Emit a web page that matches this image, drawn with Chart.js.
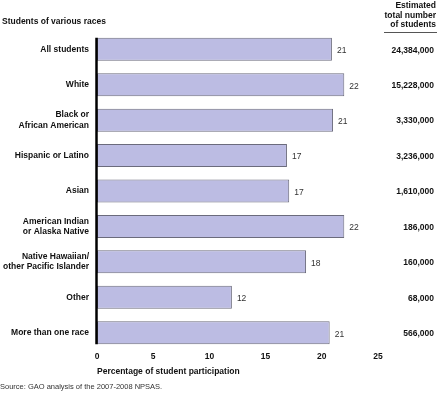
<!DOCTYPE html>
<html>
<head>
<meta charset="utf-8">
<script src="https://cdn.jsdelivr.net/npm/chart.js@4.4.1/dist/chart.umd.min.js"></script>
<style>
  html, body { margin: 0; padding: 0; background: #fff; }
  #wrap { width: 439px; height: 393px; position: relative; }
</style>
</head>
<body>
<div id="wrap"><canvas id="chart" width="439" height="393"></canvas></div>
<script>
// Data
const categories = [
    ['All students'],
    ['White'],
    ['Black or', 'African American'],
    ['Hispanic or Latino'],
    ['Asian'],
    ['American Indian', 'or Alaska Native'],
    ['Native Hawaiian/', 'other Pacific Islander'],
    ['Other'],
    ['More than one race']
];
const participation = [20.9, 22.0, 21.0, 16.9, 17.1, 22.0, 18.6, 12.0, 20.7];
const printedValues = ['21', '22', '21', '17', '17', '22', '18', '12', '21'];
const totalStudents = ['24,384,000', '15,228,000', '3,330,000', '3,236,000', '1,610,000',
    '186,000', '160,000', '68,000', '566,000'];
const xTicks = [0, 5, 10, 15, 20, 25];

const FONT = 'Liberation Sans, Arial, Helvetica, sans-serif';

// Draws headers, value labels, totals column, axis line and source note
const extras = {
    id: 'extras',
    afterDatasetsDraw(chart) {
        const ctx = chart.ctx;
        const bars = chart.getDatasetMeta(0).data;
        const area = chart.chartArea;
        ctx.save();

        // vertical axis line, only as tall as the bars
        const first = bars[0], last = bars[bars.length - 1];
        ctx.strokeStyle = '#000';
        ctx.lineWidth = 2.5;
        ctx.beginPath();
        ctx.moveTo(area.left - 0.5, first.y - first.height / 2);
        ctx.lineTo(area.left - 0.5, last.y + last.height / 2);
        ctx.stroke();

        // value labels next to bars
        ctx.font = '8.5px ' + FONT;
        ctx.fillStyle = '#333';
        ctx.textAlign = 'left';
        ctx.textBaseline = 'middle';
        bars.forEach((bar, i) => {
            ctx.fillText(printedValues[i], bar.x + 5, bar.y + 1.5);
        });

        // totals column
        ctx.font = 'bold 8.5px ' + FONT;
        ctx.fillStyle = '#111';
        ctx.textAlign = 'right';
        bars.forEach((bar, i) => {
            ctx.fillText(totalStudents[i], 434, bar.y + 1);
        });

        // headers
        ctx.fillText('Estimated', 436, 6);
        ctx.fillText('total number', 436, 15.5);
        ctx.fillText('of students', 436, 25);
        ctx.strokeStyle = '#555';
        ctx.lineWidth = 1;
        ctx.beginPath();
        ctx.moveTo(384, 32.5);
        ctx.lineTo(437, 32.5);
        ctx.stroke();

        ctx.textAlign = 'left';
        ctx.fillText('Students of various races', 2, 22);

        // source
        ctx.font = '7.5px ' + FONT;
        ctx.fillStyle = '#333';
        ctx.fillText('Source: GAO analysis of the 2007-2008 NPSAS.', 0, 387);
        ctx.restore();
    }
};

new Chart(document.getElementById('chart'), {
    type: 'bar',
    data: {
        labels: categories,
        datasets: [{
            data: participation,
            backgroundColor: '#bcbce3',
            borderColor: '#6b6b7c',
            borderWidth: 1,
            borderSkipped: false,
            categoryPercentage: 1,
            barPercentage: 0.65
        }]
    },
    options: {
        indexAxis: 'y',
        responsive: false,
        animation: false,
        layout: { padding: { top: 31.6, right: 61, bottom: 16, left: 0 } },
        plugins: { legend: { display: false }, tooltip: { enabled: false } },
        scales: {
            x: {
                min: 0,
                max: 25,
                afterBuildTicks: (scale) => { scale.ticks = xTicks.map(v => ({ value: v })); },
                afterFit: (scale) => { scale.height = 26.6; },
                grid: { display: false, drawTicks: false },
                border: { display: false },
                ticks: {
                    padding: 1,
                    color: '#111',
                    font: { family: FONT, size: 8.5, weight: 'bold' }
                },
                title: {
                    display: true,
                    align: 'start',
                    text: 'Percentage of student participation',
                    color: '#111',
                    padding: { top: 4, bottom: 0 },
                    font: { family: FONT, size: 8.5, weight: 'bold' }
                }
            },
            y: {
                afterFit: (scale) => { scale.width = 97; },
                grid: { display: false, drawTicks: false },
                border: { display: false },
                ticks: {
                    padding: 8,
                    color: '#111',
                    font: { family: FONT, size: 8.5, weight: 'bold', lineHeight: 1.2 }
                }
            }
        }
    },
    plugins: [extras]
});
</script>
</body>
</html>
